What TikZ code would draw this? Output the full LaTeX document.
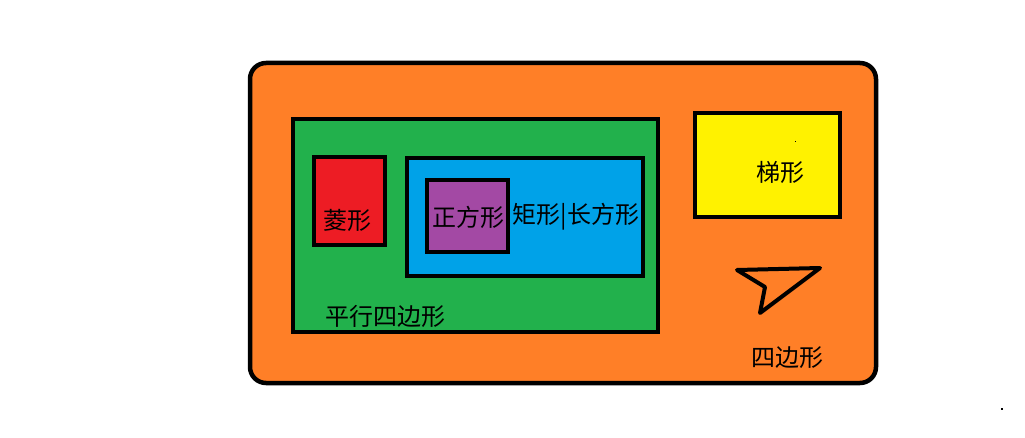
\documentclass[tikz,border=0pt]{standalone}
\usepackage{fontspec}
\newfontfamily\cjk{Noto Sans CJK SC}
\definecolor{porange}{HTML}{FF7F27}
\definecolor{pgreen}{HTML}{22B14C}
\definecolor{pred}{HTML}{ED1C24}
\definecolor{pblue}{HTML}{00A2E8}
\definecolor{ppurple}{HTML}{A349A4}
\definecolor{pyellow}{HTML}{FFF200}
\begin{document}
\begin{tikzpicture}[x=1pt,y=-1pt,
  box/.style={draw=black,line width=4.5pt},
  lbl/.style={font=\cjk\fontsize{24}{27}\selectfont,inner sep=0pt,text=black}]
\useasboundingbox (0,0) rectangle (1025,438);
\fill[white] (0,0) rectangle (1025,438);
\draw[box,fill=porange,rounded corners=16pt] (250,63) rectangle (876,383);
\draw[box,fill=pgreen] (293,119) rectangle (658,332);
\draw[box,fill=pred] (314,157) rectangle (385,245);
\draw[box,fill=pblue] (407,158) rectangle (643,276);
\draw[box,fill=ppurple] (427,180) rectangle (508,252);
\draw[box,fill=pyellow] (695,113) rectangle (840,217);
\draw[line width=4pt,line join=round,line cap=round] (737,270) -- (820,268) -- (760,313) -- (765,287) -- cycle;
\fill[black] (795,141) rectangle (796,142);
\fill[black] (1001,408) rectangle (1003,410);
\node[lbl] (ling) at (347,220) {菱形};
\node[lbl] (zfx) at (468,217) {正方形};
\node[lbl] (jx) at (576,217) {矩形|长方形};
\node[lbl] (pxsbx) at (385,316) {平行四边形};
\node[lbl] (tx) at (780,172) {梯形};
\node[lbl] (sbx) at (787,358) {四边形};
\end{tikzpicture}
\end{document}
